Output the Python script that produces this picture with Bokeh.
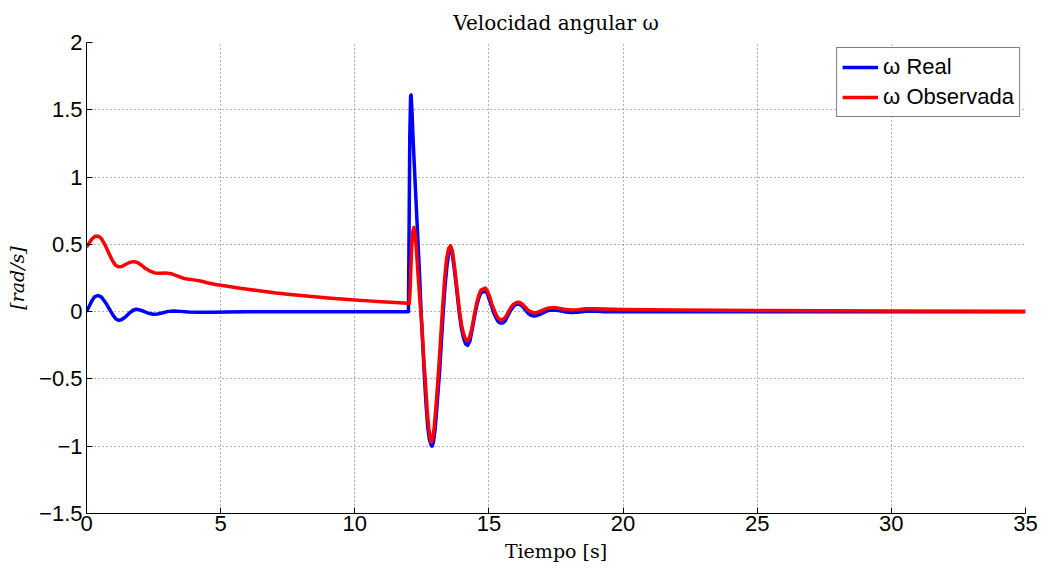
from bokeh.plotting import figure
from bokeh.models import Range1d, FixedTicker, Legend, LegendItem
from bokeh.embed import file_html
from bokeh.resources import INLINE

# Real angular velocity
t_real = [0.0, 0.1, 0.2, 0.3, 0.42, 0.55, 0.7, 0.85, 1.0, 1.1, 1.2, 1.3, 1.45, 1.6, 1.75, 1.85, 1.95, 2.1, 2.3,
          2.5, 2.65, 2.85, 3.05, 3.25, 3.5, 3.8, 4.2, 4.7, 5.2, 6.0, 8.0, 10.0, 12.0,
          12.02, 12.05, 12.08, 12.10, 12.13, 12.18, 12.24, 12.30, 12.36, 12.42, 12.47, 12.54, 12.60, 12.66, 12.72,
          12.78, 12.84, 12.88, 12.93, 12.99, 13.05, 13.11, 13.16, 13.22, 13.29, 13.36, 13.44, 13.50, 13.57, 13.64,
          13.72, 13.80, 13.90, 13.98, 14.06, 14.13, 14.21, 14.29, 14.37, 14.45, 14.54, 14.62, 14.70, 14.87, 14.95,
          15.03, 15.10, 15.18, 15.27, 15.35, 15.43, 15.52, 15.60, 15.68, 15.76, 15.83, 15.92, 16.00, 16.08, 16.15,
          16.25, 16.35, 16.45, 16.55, 16.65, 16.77, 16.9, 17.05, 17.2, 17.42, 17.6, 17.8, 18.05, 18.3, 18.6, 18.9,
          19.3, 20.0, 35.0]
w_real = [0.0, 0.04, 0.08, 0.11, 0.12, 0.11, 0.07, 0.02, -0.03, -0.055, -0.065, -0.06, -0.04, -0.01, 0.012, 0.018,
          0.015, 0.005, -0.012, -0.02, -0.018, -0.008, 0.002, 0.005, 0.002, -0.003, -0.005, -0.004, -0.002, 0.0,
          0.0, 0.0, 0.0,
          0.5, 1.3, 1.60, 1.61, 1.5, 1.25, 1.0, 0.75, 0.5, 0.25, 0.0, -0.27, -0.5, -0.7, -0.86,
          -0.95, -0.99, -1.0, -0.97, -0.88, -0.74, -0.58, -0.45, -0.25, -0.02, 0.18, 0.35, 0.43, 0.46, 0.42,
          0.3, 0.16, -0.02, -0.13, -0.2, -0.24, -0.25, -0.22, -0.14, -0.05, 0.04, 0.1, 0.14, 0.155, 0.13,
          0.08, 0.04, -0.01, -0.05, -0.075, -0.085, -0.085, -0.07, -0.04, -0.01, 0.015, 0.04, 0.052, 0.056, 0.055,
          0.04, 0.015, -0.01, -0.025, -0.032, -0.03, -0.02, -0.005, 0.008, 0.013, 0.008, 0.0, -0.006, -0.004, 0.003,
          0.004, 0.0, 0.0, 0.0]

t_obs = [0.0, 0.1, 0.2, 0.32, 0.45, 0.55, 0.68, 0.82, 0.95, 1.08, 1.2, 1.32, 1.45, 1.6, 1.75, 1.9, 2.05, 2.2, 2.38,
         2.55, 2.75, 2.95, 3.15, 3.35, 3.55, 3.75, 4.0, 4.25, 4.5, 4.8, 5.2, 5.6, 6.0, 6.5, 7.0, 7.5, 8.0, 8.5,
         9.0, 9.5, 10.0, 10.5, 11.0, 11.5, 12.0,
         12.03, 12.06, 12.09, 12.12, 12.16, 12.20, 12.24, 12.29, 12.35, 12.42, 12.50, 12.57, 12.64, 12.70, 12.76,
         12.81, 12.85, 12.90, 12.96, 13.02, 13.08, 13.14, 13.20, 13.27, 13.34, 13.42, 13.50, 13.57, 13.64, 13.72,
         13.80, 13.90, 13.98, 14.06, 14.13, 14.20, 14.28, 14.37, 14.45, 14.54, 14.62, 14.70, 14.87, 14.95, 15.03,
         15.10, 15.18, 15.27, 15.35, 15.43, 15.50, 15.60, 15.68, 15.76, 15.83, 15.92, 16.00, 16.08, 16.15, 16.25,
         16.35, 16.45, 16.55, 16.65, 16.77, 16.9, 17.05, 17.2, 17.42, 17.6, 17.8, 18.05, 18.3, 18.6, 18.9, 19.3,
         20.0, 22.0, 25.0, 30.0, 35.0]
w_obs = [0.48, 0.51, 0.54, 0.56, 0.56, 0.545, 0.5, 0.44, 0.385, 0.345, 0.333, 0.335, 0.35, 0.365, 0.372, 0.365,
         0.345, 0.32, 0.3, 0.288, 0.285, 0.288, 0.282, 0.268, 0.252, 0.242, 0.236, 0.228, 0.215, 0.202, 0.19,
         0.178, 0.167, 0.153, 0.14, 0.13, 0.12, 0.11, 0.102, 0.094, 0.087, 0.08, 0.074, 0.068, 0.062,
         0.062, 0.15, 0.32, 0.48, 0.59, 0.625, 0.6, 0.48, 0.3, 0.1, -0.1, -0.35, -0.55, -0.74, -0.87,
         -0.94, -0.97, -0.95, -0.86, -0.72, -0.56, -0.39, -0.2, 0.02, 0.22, 0.39, 0.47, 0.49, 0.45, 0.33,
         0.19, 0.01, -0.1, -0.17, -0.205, -0.215, -0.19, -0.12, -0.03, 0.06, 0.12, 0.16, 0.175, 0.15, 0.11,
         0.06, 0.02, -0.025, -0.05, -0.06, -0.06, -0.045, -0.02, 0.01, 0.035, 0.055, 0.065, 0.07, 0.068, 0.055,
         0.035, 0.012, 0.0, -0.008, -0.008, 0.002, 0.015, 0.025, 0.03, 0.026, 0.018, 0.013, 0.015, 0.021, 0.021,
         0.019, 0.016, 0.013, 0.009, 0.005, 0.002]

x_ticks = [0, 5, 10, 15, 20, 25, 30, 35]
y_ticks = [-1.5, -1, -0.5, 0, 0.5, 1, 1.5, 2]
y_tick_labels = ["\u22121.5", "\u22121", "\u22120.5", "0", "0.5", "1", "1.5", "2"]

p = figure(width=1048, height=575, output_backend="svg", toolbar_location=None,
           x_range=Range1d(0, 35), y_range=Range1d(-1.5, 2),
           min_border_left=86, min_border_right=23, min_border_top=42, min_border_bottom=62,
           title="Velocidad angular \u03c9")
p.outline_line_color = None
p.background_fill_color = "white"
p.border_fill_color = "white"

p.title.align = "center"
p.title.text_font = "DejaVu Serif"
p.title.text_font_style = "normal"
p.title.text_font_size = "20px"
p.title.text_color = "black"
p.title.standoff = 16

for ax in (p.xaxis[0], p.yaxis[0]):
    ax.major_label_text_font = "Liberation Sans"
    ax.major_label_text_font_size = "22px"
    ax.major_label_text_color = "black"
    ax.axis_line_color = "black"
    ax.major_tick_in = 6
    ax.major_tick_out = 0
    ax.minor_tick_line_color = None
    ax.axis_label_text_font = "DejaVu Serif"
    ax.axis_label_text_font_size = "19px"
    ax.axis_label_text_color = "black"

p.xaxis.ticker = FixedTicker(ticks=x_ticks)
p.yaxis.ticker = FixedTicker(ticks=y_ticks)
p.yaxis.major_label_overrides = {v: s for v, s in zip(y_ticks, y_tick_labels)}
p.xaxis.major_label_standoff = 2
p.yaxis.major_label_standoff = 4
p.xaxis.axis_label = "Tiempo [s]"
p.xaxis.axis_label_text_font_style = "normal"
p.xaxis.axis_label_standoff = 6
p.yaxis.axis_label = "[rad/s]"
p.yaxis.axis_label_text_font_style = "italic"
p.yaxis.axis_label_standoff = 8

for g in (p.xgrid[0], p.ygrid[0]):
    g.grid_line_color = "#444444"
    g.grid_line_dash = "1 3"
    g.grid_line_width = 1
    g.grid_line_alpha = 0.8

r1 = p.line(t_real, w_real, line_color="#0000ff", line_width=3.5, line_join="round")
r2 = p.line(t_obs, w_obs, line_color="#ff0000", line_width=3.5, line_join="round")

legend = Legend(items=[LegendItem(label="\u03c9 Real", renderers=[r1]),
                       LegendItem(label="\u03c9 Observada", renderers=[r2])],
                location="top_right")
legend.label_text_font = "Liberation Sans"
legend.label_text_font_size = "22px"
legend.label_text_color = "black"
legend.border_line_color = "black"
legend.border_line_width = 1
legend.margin = 5
legend.padding = 5
legend.spacing = 2
legend.glyph_width = 36
legend.label_standoff = 5
legend.label_height = 28
p.add_layout(legend)

open("out.html", "w").write(file_html(p, INLINE))
